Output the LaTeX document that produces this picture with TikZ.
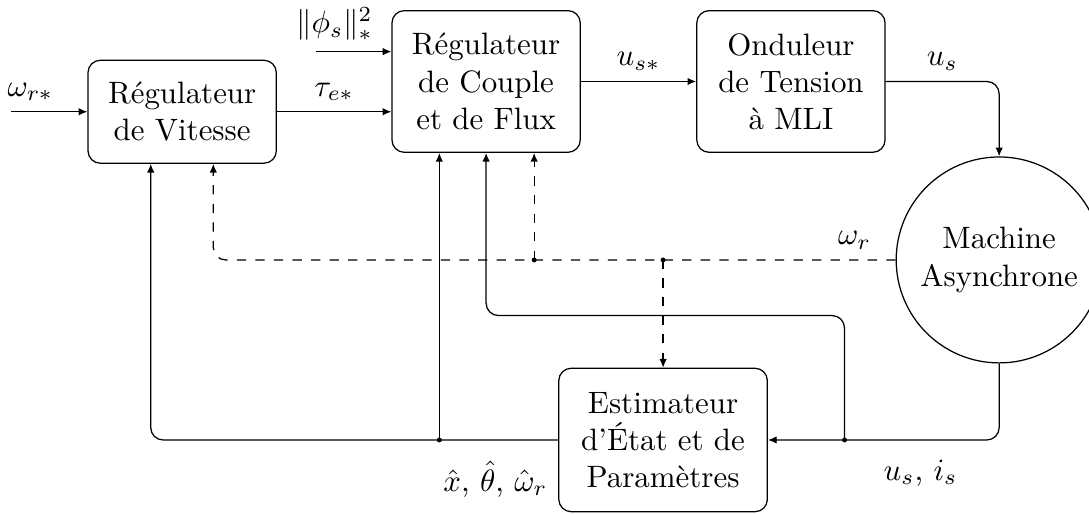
\documentclass[tikz,border=0pt]{standalone}
\usepackage{amsmath, amssymb}
\usetikzlibrary{arrows.meta, positioning, calc}

\begin{document}
\begin{tikzpicture}[
    >={Latex[length=2.8pt, width=2.4pt]},
    block/.style={draw, rounded corners, align=center, minimum width=2.14cm},
    tallblock/.style={block, minimum height=1.61cm},
    machine/.style={draw, circle, align=center, minimum size=2.34cm, inner sep=0pt}]

\useasboundingbox (-2.07,-4.57) rectangle (10.305,1.27);

% Speed controller (anchor element)
\node[block, minimum height=1.17cm] (vit) {Régulateur\\de Vitesse};

% Torque and flux controller - right of speed controller
\node[tallblock, right=1.3cm of vit, yshift=0.344cm] (cpl) {Régulateur\\de Couple\\et de Flux};

% Inverter - right of torque controller
\node[tallblock, right=1.31cm of cpl] (ond) {Onduleur\\de Tension\\à MLI};

% Machine - below right of inverter
\node[machine] (mas) at ([xshift=2.366cm, yshift=-2.028cm]ond.center) {Machine\\Asynchrone};

% Estimator - bottom
\node[block, minimum width=2.37cm, minimum height=1.63cm] (est) at (5.465,-3.73) {Estimateur\\d'État et de\\Paramètres};

% Tap points on the box bottoms
\coordinate (vitL) at ([xshift=-0.357cm]vit.south);
\coordinate (vitR) at ([xshift=0.354cm]vit.south);
\coordinate (cplL) at ([xshift=-0.532cm]cpl.south);
\coordinate (cplR) at ([xshift=0.546cm]cpl.south);
\coordinate (dotx) at (cplL |- est.west);
\coordinate (dotus) at ([xshift=0.87cm]est.east);
\coordinate (dotw1) at (cplR |- mas.west);
\coordinate (dotw2) at (est.north |- mas.west);

% References
\coordinate (wref) at ([xshift=-0.864cm]vit.west);
\draw[->] (wref) -- (vit.west) node[near start, above] (lblwref) {$\omega_{r*}$};
\coordinate (phiref) at ([xshift=-0.861cm, yshift=0.339cm]cpl.west);
\draw[->] (phiref) -- (phiref -| cpl.west) node[near start, above] (lblphi) {$\|\phi_s\|_*^2$};

% Forward path
\draw[->] (vit.east) -- (vit.east -| cpl.west) node[midway, above] (lbltau) {$\tau_{e*}$};
\draw[->] (cpl.east) -- (ond.west) node[midway, above] (lblusref) {$u_{s*}$};
\draw[->, rounded corners] (ond.east) -| node[pos=0.25, above] (lblus) {$u_s$} (mas.north);

% Measured speed (dashed)
\draw[->, dashed, rounded corners] (mas.west) -| node[pos=0.03, above] (lblwr) {$\omega_r$} (vitR);
\draw[->, dashed] (dotw1) -- (cplR);
\draw[->, dashed] (dotw2) -- (est.north);

% Measured voltages and currents
\draw[->, rounded corners] (mas.south) |- node[pos=0.67, below, yshift=-1mm] (lblusis) {$u_s$, $i_s$} (est.east);
\draw[->, rounded corners] (dotus) |- ([yshift=-1.848cm]cpl.south) -- (cpl.south);

% Estimates
\draw[->, rounded corners] (est.west) -| node[pos=0, below left, yshift=-1.2mm] (lblhat) {$\hat{x}$, $\hat{\theta}$, $\hat{\omega}_r$} (vitL);
\draw[->] (dotx) -- (cplL);

% Junction dots
\foreach \p in {dotx, dotus, dotw1, dotw2} {
    \fill (\p) circle (0.8pt);
}
\end{tikzpicture}
\end{document}
